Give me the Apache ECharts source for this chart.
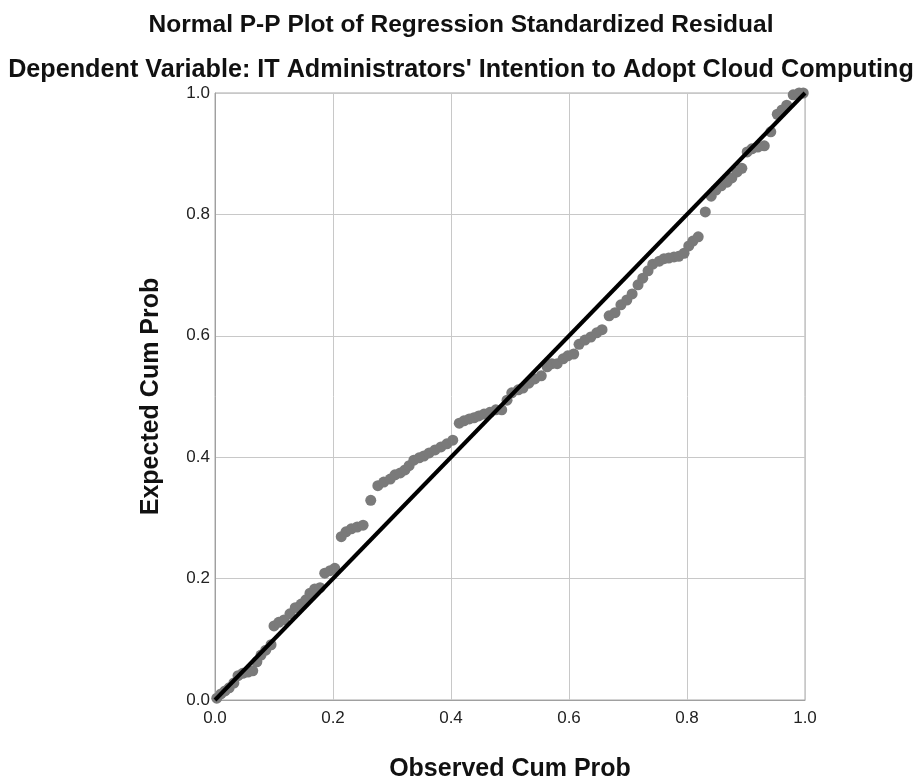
<!DOCTYPE html>
<html><head><meta charset="utf-8">
<script src="https://cdn.jsdelivr.net/npm/echarts@6/dist/echarts.min.js"></script>
<style>html,body{margin:0;padding:0;background:#fff;overflow:hidden}#c{width:922px;height:780px}</style>
</head><body><div id="c"></div>
<script>
var titleText = "Normal P-P Plot of Regression Standardized Residual";
var subtitleText = "Dependent Variable: IT Administrators' Intention to Adopt Cloud Computing";
var xAxisName = "Observed Cum Prob";
var yAxisName = "Expected Cum Prob";
var tickValues = [0, 0.2, 0.4, 0.6, 0.8, 1.0];
var observed = [0.003,0.010,0.017,0.024,0.032,0.039,0.047,0.056,0.064,0.071,0.078,0.086,0.095,0.100,0.108,0.117,0.127,0.136,0.146,0.154,0.161,0.169,0.178,0.186,0.195,0.203,0.214,0.222,0.231,0.241,0.251,0.264,0.276,0.286,0.297,0.305,0.314,0.322,0.329,0.337,0.346,0.354,0.363,0.373,0.383,0.393,0.403,0.414,0.422,0.431,0.439,0.447,0.456,0.466,0.476,0.486,0.495,0.503,0.514,0.522,0.532,0.542,0.553,0.563,0.571,0.580,0.590,0.598,0.608,0.617,0.627,0.637,0.647,0.656,0.668,0.678,0.688,0.698,0.707,0.717,0.725,0.734,0.742,0.753,0.761,0.769,0.778,0.786,0.795,0.803,0.810,0.819,0.831,0.841,0.849,0.858,0.868,0.876,0.885,0.893,0.902,0.910,0.920,0.931,0.942,0.953,0.961,0.969,0.980,0.990,0.997];
var expected = [0.003,0.010,0.015,0.020,0.028,0.040,0.044,0.046,0.048,0.063,0.074,0.082,0.091,0.122,0.128,0.132,0.142,0.152,0.158,0.165,0.176,0.183,0.185,0.209,0.213,0.217,0.269,0.277,0.282,0.285,0.288,0.329,0.353,0.359,0.364,0.371,0.374,0.379,0.386,0.395,0.399,0.402,0.407,0.412,0.417,0.422,0.428,0.456,0.460,0.463,0.465,0.468,0.471,0.474,0.478,0.478,0.494,0.506,0.511,0.514,0.522,0.529,0.534,0.549,0.554,0.554,0.562,0.567,0.570,0.586,0.593,0.598,0.605,0.610,0.633,0.638,0.651,0.659,0.669,0.684,0.695,0.707,0.718,0.723,0.727,0.728,0.730,0.731,0.736,0.748,0.756,0.763,0.804,0.830,0.840,0.847,0.853,0.860,0.870,0.876,0.903,0.908,0.911,0.913,0.936,0.965,0.972,0.980,0.997,1.000,1.000];
var refLine = [[0, 0], [1, 1]];

var points = observed.map(function (x, i) { return [x, expected[i]]; });
var chart = echarts.init(document.getElementById('c'));
var font = 'Liberation Sans, Arial, sans-serif';
chart.setOption({
  animation: false,
  backgroundColor: '#fff',
  title: [
    { text: titleText, left: 'center', top: 8, textStyle: { fontFamily: font, fontSize: 24.5, fontWeight: 'bold', color: '#111' } },
    { text: subtitleText, left: 'center', top: 53, textStyle: { fontFamily: font, fontSize: 25.2, fontWeight: 'bold', color: '#111' } }
  ],
  grid: { left: 215, top: 93, width: 590, height: 607, show: true, borderColor: '#a8a8a8', borderWidth: 1, containLabel: false, outerBoundsMode: 'none' },
  xAxis: {
    type: 'value', min: 0, max: 1, interval: 0.2,
    name: xAxisName, nameLocation: 'middle', nameGap: 57,
    nameTextStyle: { fontFamily: font, fontSize: 25, fontWeight: 'bold', color: '#111' },
    axisLine: { show: true, lineStyle: { color: '#a0a0a0' } },
    axisTick: { show: false },
    splitLine: { show: true, lineStyle: { color: '#c8c8c8', width: 1 } },
    axisLabel: { fontFamily: font, fontSize: 17, color: '#222', margin: 10, formatter: function (v) { return v.toFixed(1); } }
  },
  yAxis: {
    type: 'value', min: 0, max: 1, interval: 0.2,
    name: yAxisName, nameLocation: 'middle', nameGap: 51,
    nameTextStyle: { fontFamily: font, fontSize: 25, fontWeight: 'bold', color: '#111' },
    axisLine: { show: true, lineStyle: { color: '#a0a0a0' } },
    axisTick: { show: false },
    splitLine: { show: true, lineStyle: { color: '#c8c8c8', width: 1 } },
    axisLabel: { fontFamily: font, fontSize: 17, color: '#222', margin: 5, formatter: function (v) { return v.toFixed(1); } }
  },
  series: [
    { type: 'scatter', data: points, symbol: 'circle', symbolSize: 11, itemStyle: { color: '#7a7a7a', opacity: 1 }, z: 2 },
    { type: 'line', data: refLine, symbol: 'none', lineStyle: { color: '#000', width: 4 }, z: 3 }
  ]
});
</script></body></html>
